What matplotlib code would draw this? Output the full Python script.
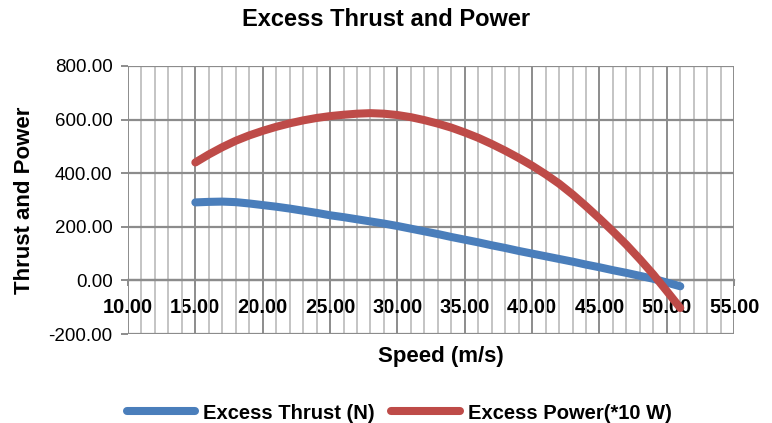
"""
Excess thrust and power vs speed
"""

import matplotlib.pyplot as plt
from matplotlib.ticker import MultipleLocator, FuncFormatter

# values
speed = [15, 16, 17, 18, 19, 20, 21, 22, 23, 24, 25, 26, 27, 28, 29, 30, 31, 32, 33,
         34, 35, 36, 37, 38, 39, 40, 41, 42, 43, 44, 45, 46, 47, 48, 49, 50, 51]
excess_thrust = [291, 293, 294, 292, 287, 281, 275, 268, 260, 252, 243, 236, 228, 220,
                 212, 203, 193, 183, 173, 162, 152, 142, 131, 121, 110, 100, 90, 80,
                 70, 59, 49, 38, 28, 17, 6, -8, -22]
excess_power = [440, 470, 497, 521, 541, 558, 573, 586, 597, 606, 613, 618, 622, 624,
                622, 617, 609, 598, 585, 570, 552, 532, 509, 484, 457, 428, 396, 361,
                321, 277, 231, 183, 133, 79, 22, -40, -103]
series_labels = ["Excess Thrust (N)", "Excess Power(*10 W)"]

BLUE = "#4A7EBB"
RED  = "#BE4B48"
MAJOR_GRID = "#8C8C8C"
MINOR_GRID = "#C4C4C4"

plt.rcParams["font.family"] = ["Liberation Sans", "DejaVu Sans"]

fig = plt.figure(figsize=(7.72, 4.23), dpi=100)
ax = fig.add_axes([0.1658, 0.2104, 0.951 - 0.1658, 0.844 - 0.2104])

ax.plot(speed, excess_thrust, color=BLUE, lw=5.8, solid_capstyle="round",
        label=series_labels[0], zorder=3)
ax.plot(speed, excess_power, color=RED, lw=5.8, solid_capstyle="round",
        label=series_labels[1], zorder=3)

ax.set_xlim(10, 55)
ax.set_ylim(-200, 800)
ax.xaxis.set_major_locator(MultipleLocator(5))
ax.xaxis.set_minor_locator(MultipleLocator(1))
ax.yaxis.set_major_locator(MultipleLocator(200))
ax.xaxis.set_major_formatter(FuncFormatter(lambda v, p: f"{v:.2f}"))
ax.yaxis.set_major_formatter(FuncFormatter(lambda v, p: f"{v:.2f}"))

ax.grid(which="minor", axis="x", color=MINOR_GRID, lw=1.4, zorder=0)
ax.grid(which="major", axis="x", color=MAJOR_GRID, lw=1.4, zorder=1)
ax.grid(which="major", axis="y", color=MAJOR_GRID, lw=1.6, zorder=1)
ax.set_axisbelow(True)

for side in ["top", "right", "left"]:
    ax.spines[side].set_visible(False)
ax.spines["bottom"].set_position(("data", 0))
ax.spines["bottom"].set_color(MAJOR_GRID)
ax.spines["bottom"].set_linewidth(1.6)

ax.tick_params(axis="x", which="major", length=4, width=1.4, color=MAJOR_GRID,
               labelsize=14.5, pad=8.5)
ax.tick_params(axis="x", which="minor", length=0)
ax.tick_params(axis="y", length=5, width=1.4, color=MAJOR_GRID, labelsize=13.5, pad=6)
for lbl in ax.get_xticklabels():
    lbl.set_fontweight("bold")

ax.set_ylabel("Thrust and Power", fontsize=16, fontweight="bold", labelpad=10)
fig.text(0.571, 1 - 356 / 423, "Speed (m/s)", fontsize=16, fontweight="bold",
         ha="center", va="center")
fig.text(0.5, 1 - 20 / 423, "Excess Thrust and Power", fontsize=17,
         fontweight="bold", ha="center", va="center")

fig.legend(loc="center", bbox_to_anchor=(0.517, 1 - 413 / 423), ncol=2, frameon=False,
           prop={"size": 14.5, "weight": "bold"}, handlelength=3.4,
           columnspacing=0.8, handletextpad=0.4)

plt.savefig("out.png", dpi=100)
